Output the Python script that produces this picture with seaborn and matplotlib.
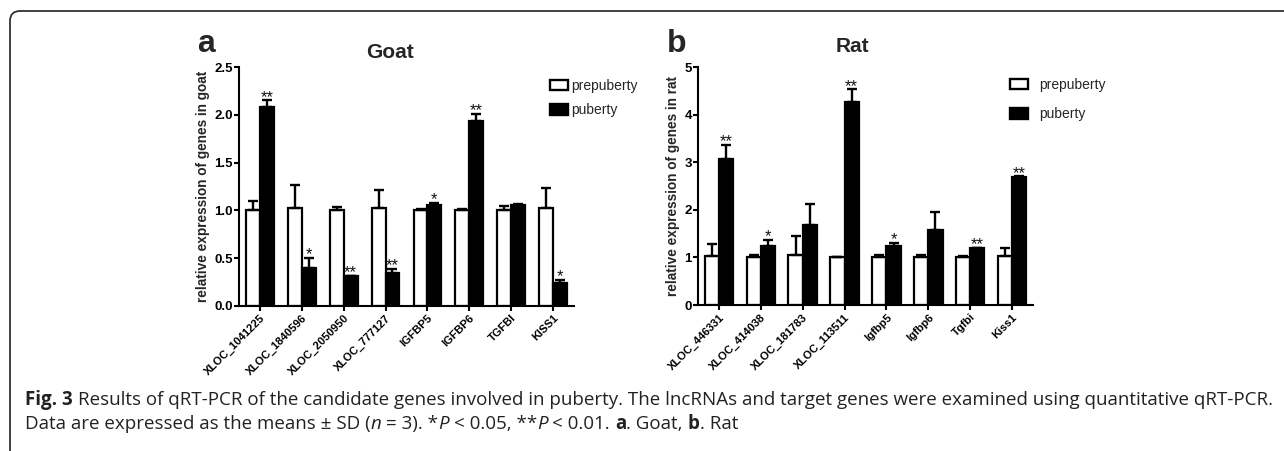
import numpy as np
import pandas as pd
import matplotlib
matplotlib.use("Agg")
import matplotlib.pyplot as plt
import seaborn as sns
from matplotlib.patches import Patch, FancyBboxPatch
from matplotlib.transforms import IdentityTransform
from matplotlib import font_manager as fm

# ---------------- data ----------------
stages = ["prepuberty", "puberty"]
stage_colors = ["white", "black"]

goat_genes = ["XLOC_1041225", "XLOC_1840596", "XLOC_2050950", "XLOC_777127",
              "IGFBP5", "IGFBP6", "TGFBI", "KISS1"]
goat_pre = [1.00, 1.02, 1.00, 1.02, 1.00, 1.00, 1.00, 1.02]
goat_pre_sd = [0.10, 0.25, 0.04, 0.19, 0.01, 0.01, 0.05, 0.21]
goat_pub = [2.08, 0.40, 0.31, 0.35, 1.06, 1.94, 1.06, 0.24]
goat_pub_sd = [0.07, 0.10, 0.005, 0.04, 0.02, 0.07, 0.01, 0.03]
goat_stars = ["**", "*", "**", "**", "*", "**", "", "*"]
goat_yticks = [0.0, 0.5, 1.0, 1.5, 2.0, 2.5]

rat_genes = ["XLOC_446331", "XLOC_414038", "XLOC_181783", "XLOC_113511",
             "Igfbp5", "Igfbp6", "Tgfbi", "Kiss1"]
rat_pre = [1.03, 1.00, 1.05, 1.00, 1.00, 1.00, 1.00, 1.02]
rat_pre_sd = [0.25, 0.05, 0.39, 0.01, 0.05, 0.05, 0.03, 0.17]
rat_pub = [3.07, 1.24, 1.69, 4.26, 1.23, 1.58, 1.19, 2.68]
rat_pub_sd = [0.29, 0.13, 0.43, 0.27, 0.07, 0.37, 0.01, 0.02]
rat_stars = ["**", "*", "", "**", "*", "", "**", "**"]
rat_yticks = [0, 1, 2, 3, 4, 5]

caption_line1 = [("Fig. 3", "bold", "normal"),
                 (" Results of qRT-PCR of the candidate genes involved in puberty. The lncRNAs and target genes were examined using quantitative qRT-PCR.", "normal", "normal")]
caption_line2 = [("Data are expressed as the means \u00b1 SD (", "normal", "normal"),
                 ("n", "normal", "italic"),
                 (" = 3). *", "normal", "normal"),
                 ("P", "normal", "italic"),
                 (" < 0.05, **", "normal", "normal"),
                 ("P", "normal", "italic"),
                 (" < 0.01. ", "normal", "normal"),
                 ("a", "bold", "normal"),
                 (". Goat, ", "normal", "normal"),
                 ("b", "bold", "normal"),
                 (". Rat", "normal", "normal")]

# ---------------- style ----------------
sns.set_theme(style="ticks")
plt.rcParams["font.family"] = ["Liberation Sans", "DejaVu Sans"]
plt.rcParams["axes.linewidth"] = 1.5

W, H = 1284, 451
fig = plt.figure(figsize=(W / 100, H / 100), dpi=100)
fig.patch.set_facecolor("white")


def has_bold(fam):
    try:
        path = fm.findfont(fm.FontProperties(family=fam, weight="bold"),
                           fallback_to_default=False)
    except Exception:
        return False
    name = path.lower()
    return "bold" in name or "-b." in name or "bd." in name


cap_main = "Liberation Sans"
for cand in ["Open Sans", "Noto Sans", "Lato", "Liberation Sans"]:
    if has_bold(cand):
        cap_main = cand
        break
cap_family = [cap_main, "DejaVu Sans"]


def px_axes(l, t, r, b):
    return fig.add_axes([l / W, 1 - b / H, (r - l) / W, (b - t) / H])


def panel(ax, genes, pre, pre_sd, pub, pub_sd, stars, yticks, ylabel, width):
    n = len(genes)
    df = pd.DataFrame({"gene": genes * 2,
                       "stage": [stages[0]] * n + [stages[1]] * n,
                       "value": pre + pub})
    sns.barplot(data=df, x="gene", y="value", hue="stage", order=genes,
                hue_order=stages, palette=dict(zip(stages, stage_colors)),
                edgecolor="black", linewidth=1.6, width=width, saturation=1,
                errorbar=None, legend=False, ax=ax, zorder=2)
    bars = list(ax.containers)
    for cont, sd in zip(bars, [pre_sd, pub_sd]):
        xs = [p.get_x() + p.get_width() / 2 for p in cont]
        ys = [p.get_height() for p in cont]
        ax.errorbar(xs, ys, yerr=[np.zeros(len(sd)), sd], fmt="none",
                    ecolor="black", elinewidth=1.7, capsize=3.4,
                    capthick=1.7, zorder=3)
    for p, sd, s in zip(bars[1], pub_sd, stars):
        if s:
            ax.annotate(s, (p.get_x() + p.get_width() / 2, p.get_height() + sd),
                        xytext=(0, -1.0), textcoords="offset points",
                        ha="center", va="baseline", fontsize=12, color="#111111")
    ax.set_xlim(-0.5, n - 0.5)
    ax.set_ylim(yticks[0], yticks[-1])
    ax.set_yticks(yticks)
    ax.set_xticks(range(n), labels=genes, rotation=45, ha="right",
                  rotation_mode="anchor", fontsize=8, fontweight="bold")
    for lab in ax.get_yticklabels():
        lab.set_fontweight("bold")
        lab.set_fontsize(9.5)
    ax.set_xlabel("")
    ax.set_ylabel(ylabel, fontsize=9.8, fontweight="bold", labelpad=3)
    ax.tick_params(axis="both", width=1.5, length=3.6, color="black",
                   labelcolor="black", pad=1.5)
    ax.tick_params(axis="y", pad=0.8)
    sns.despine(ax=ax)
    for sp in ["left", "bottom"]:
        ax.spines[sp].set_color("black")
        ax.spines[sp].set_linewidth(1.5)
    ax.set_facecolor("white")


def legend(ax, x_img, top_img, textpad, spacing):
    handles = [Patch(facecolor=c, edgecolor="black", linewidth=1.7, label=s)
               for s, c in zip(stages, stage_colors)]
    ax.legend(handles=handles, loc="upper left",
              bbox_to_anchor=(x_img / W, 1 - top_img / H),
              bbox_transform=fig.transFigure, frameon=False, fontsize=10,
              handlelength=1.3, handleheight=0.75, handletextpad=textpad,
              labelspacing=spacing, borderpad=0, borderaxespad=0)


ax1 = px_axes(239, 67, 574, 306)
panel(ax1, goat_genes, goat_pre, goat_pre_sd, goat_pub, goat_pub_sd,
      goat_stars, goat_yticks, "relative expression of genes in goat", 0.66)
legend(ax1, 550, 79, 0.25, 0.75)

ax2 = px_axes(698, 67, 1033, 305)
panel(ax2, rat_genes, rat_pre, rat_pre_sd, rat_pub, rat_pub_sd,
      rat_stars, rat_yticks, "relative expression of genes in rat", 0.68)
legend(ax2, 1010, 78, 0.8, 1.1)


def ftext(x, y_img, s, **kw):
    return fig.text(x / W, 1 - y_img / H, s, **kw)


ftext(390, 58, "Goat", fontsize=15, fontweight="bold", ha="center", va="baseline")
ftext(852, 52, "Rat", fontsize=15, fontweight="bold", ha="center", va="baseline")
ftext(197, 52, "a", fontsize=23, fontweight="bold", ha="left", va="baseline")
ftext(667, 52, "b", fontsize=23, fontweight="bold", ha="left", va="baseline")

# border (rounded top-left corner, open to the right and bottom)
border = FancyBboxPatch((10, -60), 1400, H - 11 + 60,
                        boxstyle="round,pad=0,rounding_size=10",
                        transform=IdentityTransform(), fill=False,
                        edgecolor="#333333", linewidth=1.3)
fig.add_artist(border)

# caption
renderer = fig.canvas.get_renderer()


def width_of(s, size, weight, style):
    t = fig.text(0, 0, s, fontsize=size, family=cap_family,
                 fontweight=weight, fontstyle=style)
    w = t.get_window_extent(renderer).width
    t.remove()
    return w


def draw_runs(runs, x0, y_img, size):
    x = x0
    sw = width_of("a a", size, "normal", "normal") - width_of("aa", size, "normal", "normal")
    for txt, weight, style in runs:
        lead = len(txt) - len(txt.lstrip(" "))
        trail = len(txt) - len(txt.rstrip(" "))
        core = txt.strip(" ")
        x += lead * sw
        if core:
            t = fig.text(x / W, 1 - y_img / H, core, fontsize=size,
                         family=cap_family, fontweight=weight,
                         fontstyle=style, color="#222222",
                         ha="left", va="baseline")
            x += t.get_window_extent(renderer).width
        x += trail * sw
    return x


base = 12.0
probe = [t for t in fig.texts]
end = draw_runs(caption_line1, 0, -100, base)
for t in list(fig.texts):
    if t not in probe:
        t.remove()
size = base * (1272 - 25) / end
draw_runs(caption_line1, 25, 405, size)
draw_runs(caption_line2, 25, 429, size)

fig.savefig("out.png", dpi=100, facecolor="white")
